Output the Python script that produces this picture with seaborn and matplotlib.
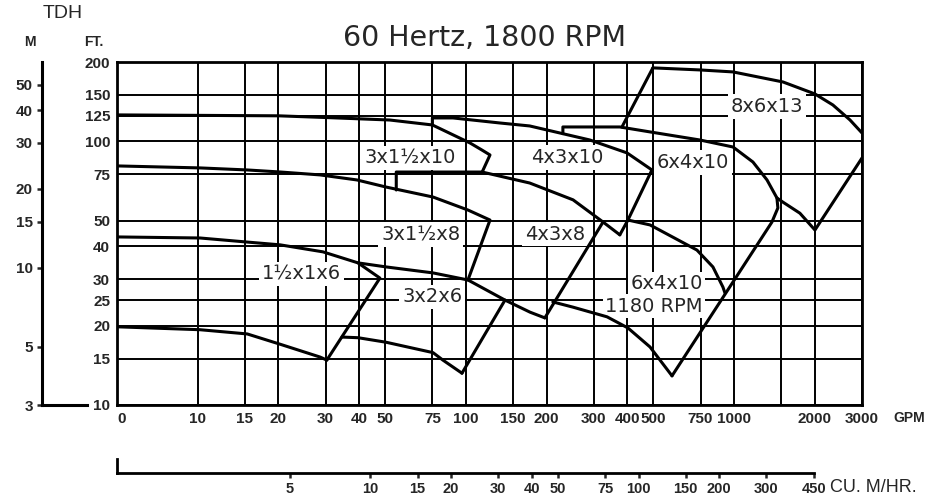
import matplotlib
matplotlib.use("Agg")
import matplotlib.pyplot as plt
from matplotlib.ticker import NullLocator
import pandas as pd
import seaborn as sns

sns.set_theme(style="white")
plt.rcParams["font.family"] = ["DejaVu Sans"]

W, H = 927, 501
GPM_PER_M3H = 4.403
FT_PER_M = 3.281
TICK_FONT = dict(fontfamily="Liberation Sans", fontweight="bold")

# axis scales
gpm_ticks = [5, 10, 15, 20, 30, 40, 50, 75, 100, 150, 200, 300, 400, 500, 750, 1000, 1500, 2000, 3000]
gpm_labels = ["0", "10", "15", "20", "30", "40", "50", "75", "100", "150", "200", "300",
              "400", "500", "750", "1000", "", "2000", "3000"]
ft_ticks = [10, 15, 20, 25, 30, 40, 50, 75, 100, 125, 150, 200]
m_ticks = [3, 5, 10, 15, 20, 30, 40, 50]
m3h_ticks = [5, 10, 15, 20, 30, 40, 50, 75, 100, 150, 200, 300, 450]

# pump lines (GPM, FT)
max_3x15x10_gpm = [5, 20, 31, 52, 75, 103.6, 115, 123, 115]
max_3x15x10_ft = [126, 125, 123, 120.5, 115.4, 98.6, 92.6, 88.8, 76.5]

min_3x15x10_gpm = [55, 55, 115, 173, 251, 325, 375]
min_3x15x10_ft = [65.4, 76.5, 76.5, 69.5, 60, 49.4, 44.2]

max_4x3x10_gpm = [75, 75, 89.5, 134, 173, 290, 399, 494, 402, 375]
max_4x3x10_ft = [115.4, 122.7, 122.7, 117.4, 114.4, 101.2, 90.4, 77.9, 50.3, 44.2]

end_4x3x8_gpm = [324.5, 197]
end_4x3x8_ft = [49.4, 21.4]

max_3x15x8_gpm = [5, 10.2, 15.3, 20.4, 28.6, 39.2, 50.4, 75.4, 101.8, 123, 101.8]
max_3x15x8_ft = [80.7, 79.3, 77.9, 76.5, 74.6, 71.4, 67.1, 61.5, 54.9, 50.3, 29.8]

max_15x1x6_gpm = [5, 10.2, 15.3, 20.3, 29.3, 39.6, 47.8, 30.3]
max_15x1x6_ft = [43.4, 43.0, 41.5, 40.5, 38.1, 34.6, 30.3, 14.8]

min_15x1x6_gpm = [5, 10.2, 15.3, 20.3, 28.6, 30.3]
min_15x1x6_ft = [19.8, 19.3, 18.6, 17.0, 15.2, 14.8]

max_3x2x6_gpm = [39.6, 50.4, 75.4, 101.8, 139.9, 173.4, 197]
max_3x2x6_ft = [34.6, 33.4, 31.7, 29.8, 25.0, 22.5, 21.4]

end_3x2x6_gpm = [139.9, 96.7]
end_3x2x6_ft = [25.0, 13.2]

min_3x2x6_gpm = [34.5, 39.6, 50.4, 75.4, 82.1, 96.7]
min_3x2x6_ft = [18.1, 18.0, 17.3, 15.8, 14.8, 13.2]

max_6x4x10_1180_gpm = [211, 251, 336, 402, 486, 587]
max_6x4x10_1180_ft = [24.6, 23.5, 21.6, 19.6, 16.6, 12.9]

max_6x4x10_gpm = [230, 230, 375, 486, 746, 991, 1176, 1327, 1445, 1457, 1384, 587]
max_6x4x10_ft = [107, 113.4, 113.4, 108.6, 101.2, 95.2, 83.5, 71.4, 61.0, 55.9, 49.4, 12.9]

min_6x4x10_gpm = [402, 486, 727, 834, 909, 925]
min_6x4x10_ft = [50.3, 48.2, 38.7, 33.4, 28.0, 26.6]

start_8x6x13_gpm = [382, 498]
start_8x6x13_ft = [113.4, 190]

max_8x6x13_gpm = [498, 746, 991, 1522, 2003, 2337, 2705, 3000]
max_8x6x13_ft = [190, 186.6, 183.4, 168.0, 151.3, 137.4, 120.6, 107.6]

min_8x6x13_gpm = [1445, 1522, 1760, 2003, 3000]
min_8x6x13_ft = [61.0, 58.8, 53.4, 46.1, 86.5]

pump_lines = {
    "3x1.5x10 max": (max_3x15x10_gpm, max_3x15x10_ft),
    "3x1.5x10 min": (min_3x15x10_gpm, min_3x15x10_ft),
    "4x3x10 max": (max_4x3x10_gpm, max_4x3x10_ft),
    "4x3x8 end": (end_4x3x8_gpm, end_4x3x8_ft),
    "3x1.5x8 max": (max_3x15x8_gpm, max_3x15x8_ft),
    "1.5x1x6 max": (max_15x1x6_gpm, max_15x1x6_ft),
    "1.5x1x6 min": (min_15x1x6_gpm, min_15x1x6_ft),
    "3x2x6 max": (max_3x2x6_gpm, max_3x2x6_ft),
    "3x2x6 end": (end_3x2x6_gpm, end_3x2x6_ft),
    "3x2x6 min": (min_3x2x6_gpm, min_3x2x6_ft),
    "6x4x10 1180": (max_6x4x10_1180_gpm, max_6x4x10_1180_ft),
    "6x4x10 max": (max_6x4x10_gpm, max_6x4x10_ft),
    "6x4x10 min": (min_6x4x10_gpm, min_6x4x10_ft),
    "8x6x13 start": (start_8x6x13_gpm, start_8x6x13_ft),
    "8x6x13 max": (max_8x6x13_gpm, max_8x6x13_ft),
    "8x6x13 min": (min_8x6x13_gpm, min_8x6x13_ft),
}

rows = []
for name, (gpm, ft) in pump_lines.items():
    for i, (g, f) in enumerate(zip(gpm, ft)):
        rows.append({"line": name, "order": i, "gpm": g, "ft": f})
df = pd.DataFrame(rows)


def frac(left, top, width, height):
    return [left / W, 1 - (top + height) / H, width / W, height / H]


fig = plt.figure(figsize=(W / 100, H / 100), dpi=100)

# main chart
ax = fig.add_axes(frac(117, 62, 745, 343))
ax.set_xscale("log")
ax.set_yscale("log")
sns.lineplot(data=df, x="gpm", y="ft", units="line", estimator=None, sort=False,
             color="black", linewidth=2.2, ax=ax, zorder=6)
ax.set_xlim(5, 3000)
ax.set_ylim(10, 200)
ax.set_xticks(gpm_ticks, gpm_labels, fontsize=11, **TICK_FONT)
ax.set_yticks(ft_ticks, [str(v) for v in ft_ticks], fontsize=11, **TICK_FONT)
ax.xaxis.set_minor_locator(NullLocator())
ax.yaxis.set_minor_locator(NullLocator())
ax.get_xticklabels()[0].set_ha("left")
ax.tick_params(length=0, pad=5)
ax.set_xlabel("")
ax.set_ylabel("")
ax.grid(True, which="major", color="black", linewidth=1.4)
ax.set_axisbelow(True)
for sp in ax.spines.values():
    sp.set_color("black")
    sp.set_linewidth(2)

curve_labels = [
    ("3x1½x10", 62, 86.5), ("4x3x10", 238, 87), ("6x4x10", 702, 83),
    ("8x6x13", 1327, 136), ("3x1½x8", 68, 44.2), ("4x3x8", 215, 44.5),
    ("1½x1x6", 24.3, 31.4), ("3x2x6", 75, 25.7),
]
for txt, gx, fy in curve_labels:
    ax.text(gx, fy, txt, ha="center", va="center", fontsize=14, zorder=5,
            bbox=dict(boxstyle="square,pad=0.15", fc="white", ec="none"))
for txt, fy in [("6x4x10", 28.8), ("1180 RPM", 23.7)]:
    ax.text(765, fy, txt, ha="right", va="center", fontsize=14, zorder=5,
            bbox=dict(boxstyle="square,pad=0.12", fc="white", ec="none"))

# metres scale on the far left
axm = fig.add_axes(frac(42, 62, 45, 343))
axm.set_yscale("log")
axm.set_ylim(3, 61)
axm.set_yticks(m_ticks, [str(v) for v in m_ticks], fontsize=11, **TICK_FONT)
axm.yaxis.set_minor_locator(NullLocator())
axm.set_xticks([])
axm.patch.set_alpha(0)
axm.spines["top"].set_visible(False)
axm.spines["right"].set_visible(False)
for side in ("left", "bottom"):
    axm.spines[side].set_color("black")
    axm.spines[side].set_linewidth(2.2)
axm.tick_params(axis="y", direction="out", length=3.6, width=1.8, pad=3, left=True)

# cubic metres per hour scale under the chart
axb = fig.add_axes(frac(117, 459, 745, 14))
axb.set_xscale("log")
axb.set_xlim(5 / GPM_PER_M3H, 3000 / GPM_PER_M3H)
axb.set_xticks(m3h_ticks, [str(v) for v in m3h_ticks], fontsize=10.5, **TICK_FONT)
axb.xaxis.set_minor_locator(NullLocator())
axb.set_yticks([])
axb.patch.set_alpha(0)
axb.spines["top"].set_visible(False)
axb.spines["right"].set_visible(False)
for side in ("left", "bottom"):
    axb.spines[side].set_color("black")
    axb.spines[side].set_linewidth(2)
axb.spines["bottom"].set_bounds(5 / GPM_PER_M3H, 450)
axb.tick_params(axis="x", direction="out", length=3.6, width=1.8, pad=3, bottom=True)

# titles and unit labels
fig.text(485 / W, 1 - 46 / H, "60 Hertz, 1800 RPM", ha="center", va="baseline", fontsize=20.5)
fig.text(63 / W, 1 - 14 / H, "TDH", ha="center", va="center", fontsize=14, fontfamily="Liberation Sans")
fig.text(30 / W, 1 - 42 / H, "M", ha="center", va="center", fontsize=10, **TICK_FONT)
fig.text(94 / W, 1 - 42 / H, "FT.", ha="center", va="center", fontsize=10, **TICK_FONT)
fig.text(893 / W, 1 - 418 / H, "GPM", ha="left", va="center", fontsize=10, **TICK_FONT)
fig.text(830 / W, 1 - 487 / H, "CU. M/HR.", ha="left", va="center", fontsize=13,
         fontfamily="Liberation Sans")

fig.savefig("out.png", dpi=100)
